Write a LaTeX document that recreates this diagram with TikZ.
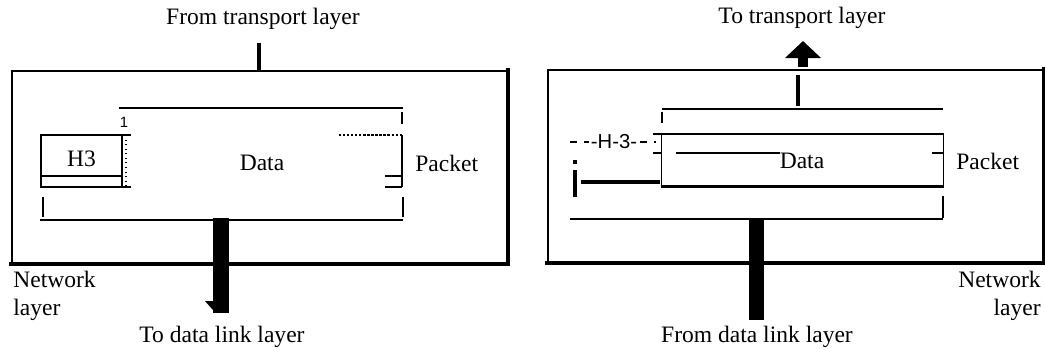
\documentclass[tikz,border=0pt]{standalone}
\usepackage{fontspec}
\setmainfont{Liberation Serif}
\setsansfont{Liberation Sans}
\usetikzlibrary{arrows.meta}

\begin{document}
\begin{tikzpicture}[
    x=0.02cm, y=-0.02cm,
    lbl/.style={font=\fontsize{13.4}{15.8}\selectfont, inner sep=0pt},
    small/.style={font=\sffamily\fontsize{11.5}{13}\selectfont, inner sep=0pt},
    frame/.style={draw, line width=0.8pt, minimum width=9.9cm, minimum height=3.84cm, inner sep=0pt},
    heavy/.style={line width=2.4pt, line cap=rect},
    bar/.style={line width=9pt},
    stem/.style={line width=1.8pt},
    rule/.style={line width=0.9pt},
    notch/.style={line width=1.3pt}
  ]
    \useasboundingbox (0,0) rectangle (1045,349);

    % Left: sending side
    \node[lbl] (srcL) at (263,19) {From transport layer};
    \node[frame] (netL) at (259.5,167) {};
    \draw[heavy] (netL.south west) -- (netL.south east) -- (netL.north east);
    \coordinate (inL) at (259,43);
    \draw[stem] (inL) -- (inL |- netL.north);

    \draw[rule] (119,108) -- (403,108);
    \draw[notch] (402,112) -- (402,124);
    \node[small, font=\sffamily\fontsize{8.5}{10}\selectfont] (oneL) at (124,122) {1};
    \node[draw, rule, minimum width=1.62cm, minimum height=1.04cm, inner sep=0pt] (hdrL) at (81.5,161) {};
    \node[lbl] (h3L) at (81.5,159) {H3};
    \draw[rule] (41,176) -- (122,176);
    \draw[notch] (41,187) -- (131,187);
    \draw[rule] (122,135) -- (131,135);
    \draw[dotted, line width=0.6pt] (126,135) -- (126,187);
    \node[lbl] (dataL) at (262,163) {Data};
    \draw[notch, densely dotted] (339,135) -- (402,135);
    \draw[rule] (402,135) -- (402,187);
    \draw[rule] (385,176) -- (402,176);
    \draw[rule] (385,187) -- (402,187);
    \node[lbl, anchor=west] (pktL) at (415,163) {Packet};
    \draw[notch] (43,197) -- (43,217);
    \draw[notch] (403,197) -- (403,217);
    \draw[rule] (40,220) -- (403,220);

    \node[lbl, align=left, anchor=west] (nlL) at (13,296) {Network\\layer};
    \node[lbl] (dstL) at (222,337) {To data link layer};
    \coordinate (outL) at (221,313);
    \draw[bar] (outL |- 0,218) -- (outL);
    \fill (205,301) -- (213,301) -- (213,310) -- cycle;

    % Right: receiving side
    \node[lbl] (dstR) at (802,18) {To transport layer};
    \node[frame] (netR) at (795.5,166) {};
    \draw[heavy] (netR.south west) -- (netR.south east) -- (netR.north east);
    \coordinate (tipR) at (803,41);
    \draw[line width=5.7pt, -{Triangle[length=9.7pt, width=20pt]}] (tipR |- 0,67) -- (tipR);
    \draw[stem, line width=2.2pt] (798,75) -- (798,106);

    \draw[rule] (662,109) -- (943,109);
    \draw[notch] (662,112) -- (662,123);
    \node[draw, rule, minimum width=5.64cm, minimum height=1.04cm, inner sep=0pt] (pldR) at (802.5,160) {};
    \draw[notch] (pldR.south west) -- (pldR.south east);
    \node[lbl] (dataR) at (802,161) {Data};
    \draw[rule] (653,153) -- (662,153);
    \draw[rule] (676,153) -- (780,153);
    \draw[rule] (932,153) -- (944,153);
    \draw[rule] (653,134) -- (662,134);
    \draw[line width=0.7pt, dash pattern=on 4pt off 4pt] (570,142) -- (656,142);
    \node[small, fill=white, inner xsep=1pt] (h3R) at (614,142) {-H-3-};
    \fill (573,160) rectangle (577,164);
    \draw[stem, line width=2pt] (575,170) -- (575,197);
    \draw[stem, line width=2pt] (581,182) -- (660,182);
    \node[lbl, anchor=west] (pktR) at (956,161) {Packet};
    \draw[notch] (943,196) -- (943,218);
    \draw[rule] (570,219) -- (943,219);

    \node[lbl, align=right, anchor=east] (nlR) at (1041,296) {Network\\layer};
    \node[lbl] (srcR) at (757,337) {From data link layer};
    \coordinate (inR) at (756.5,320);
    \draw[bar, line width=8.6pt] (inR) -- (inR |- 0,220);
\end{tikzpicture}
\end{document}
